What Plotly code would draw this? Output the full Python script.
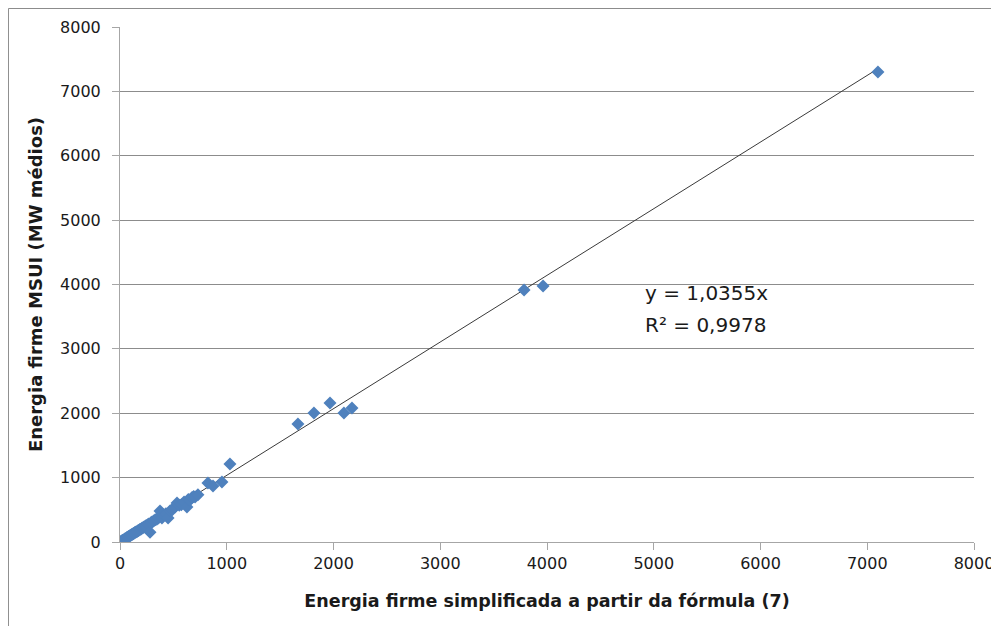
import plotly.graph_objects as go

x_vals = [5, 12, 18, 25, 30, 38, 45, 50, 58, 65, 72, 80, 88, 95, 102, 110, 118, 125, 135, 142, 150, 160, 168, 175, 185, 195, 205, 215, 225, 235, 245, 253, 262, 270, 281, 290, 300, 315, 330, 345, 360, 375, 393, 410, 430, 450, 470, 490, 515, 534, 555, 575, 600, 627, 640, 656, 675, 690, 703, 730,
          824, 871, 955, 1030, 1667, 1817, 1967, 2098, 2173, 3785, 3963, 7100]
y_vals = [4, 10, 20, 24, 32, 36, 48, 52, 56, 70, 74, 84, 90, 100, 104, 118, 120, 132, 138, 150, 155, 162, 176, 180, 195, 200, 214, 222, 232, 240, 255, 233, 270, 278, 150, 300, 312, 325, 345, 355, 372, 482, 373, 425, 440, 373, 485, 500, 544, 606, 570, 580, 620, 544, 660, 652, 690, 705, 699, 735,
          916, 870, 932, 1212, 1833, 2004, 2159, 2004, 2082, 3915, 3977, 7300]

slope = 1.0355
r2 = 0.9978
trend_x = [0, max(x_vals)]
trend_y = [slope * v for v in trend_x]

tick_vals = [0, 1000, 2000, 3000, 4000, 5000, 6000, 7000, 8000]

font_family = "'DejaVu Sans', sans-serif"

fig = go.Figure()
fig.add_trace(go.Scatter(x=trend_x, y=trend_y, mode="lines",
                         line=dict(color="#3a3a3a", width=1), hoverinfo="skip", showlegend=False))
fig.add_trace(go.Scatter(x=x_vals, y=y_vals, mode="markers",
                         marker=dict(symbol="diamond", size=10, color="#4F81BD", line=dict(width=0)),
                         showlegend=False))

eq_text = "y = " + f"{slope:.4f}".replace(".", ",") + "x"
r2_text = "R² = " + f"{r2:.4f}".replace(".", ",")
fig.add_annotation(x=4900, y=3868, xref="x", yref="y", xanchor="left", yanchor="middle",
                   text=eq_text, showarrow=False,
                   font=dict(family=font_family, size=20, color="#1a1a1a"))
fig.add_annotation(x=4900, y=3371, xref="x", yref="y", xanchor="left", yanchor="middle",
                   text=r2_text, showarrow=False,
                   font=dict(family=font_family, size=20, color="#1a1a1a"))

axis_common = dict(range=[0, 8000], tickvals=tick_vals, ticks="outside", ticklen=7,
                   tickcolor="#a6a6a6", linecolor="#a6a6a6", linewidth=1,
                   tickfont=dict(family=font_family, size=16, color="#1a1a1a"),
                   zeroline=False, showline=True, automargin=False)

fig.update_xaxes(**axis_common, showgrid=False,
                 title=dict(text="<b>Energia firme simplificada a partir da fórmula (7)</b>",
                            font=dict(family=font_family, size=17.5, color="#1a1a1a"), standoff=22))
fig.update_yaxes(**axis_common, showgrid=True, gridcolor="#8c8c8c", gridwidth=1,
                 ticklabelstandoff=8,
                 title=dict(text="<b>Energia firme MSUI (MW médios)</b>",
                            font=dict(family=font_family, size=18, color="#1a1a1a"), standoff=12))

# outer chart frame (top and left edges visible)
fig.add_shape(type="line", xref="paper", yref="paper", x0=-0.1306, x1=1.05, y0=1.0359, y1=1.0359,
              line=dict(color="#8c8c8c", width=1))
fig.add_shape(type="line", xref="paper", yref="paper", x0=-0.1306, x1=-0.1306, y0=-0.2, y1=1.0359,
              line=dict(color="#8c8c8c", width=1))

fig.update_layout(width=991, height=618, margin=dict(l=112, r=25, t=19, b=84),
                  plot_bgcolor="white", paper_bgcolor="white")

fig.write_html("out.html")
